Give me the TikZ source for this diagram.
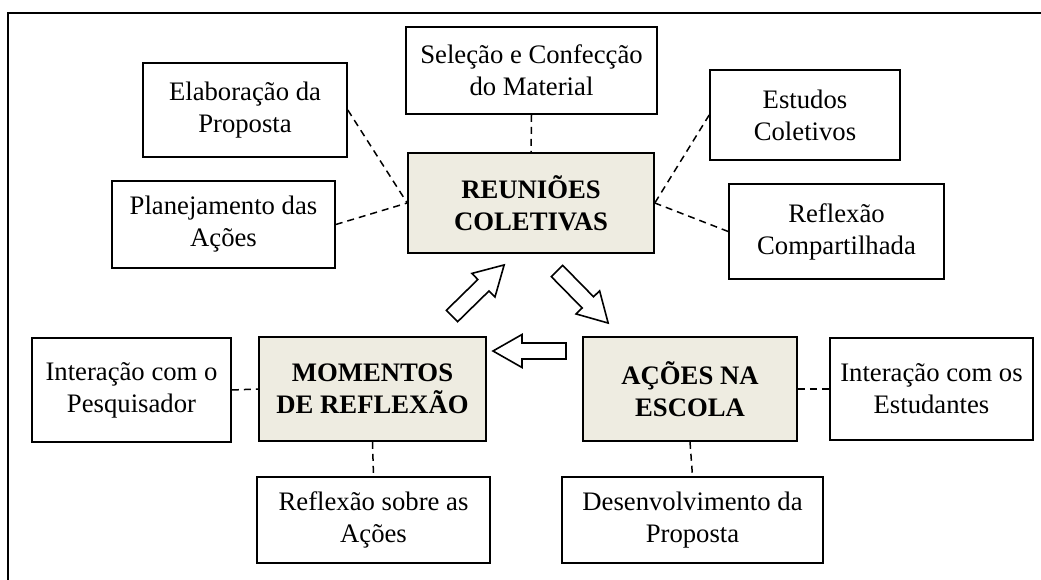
\documentclass[tikz,border=0pt]{standalone}
\usepackage{fontspec}
\setmainfont{Liberation Serif}

\definecolor{tanfill}{RGB}{238,236,225}
\tikzset{
  box/.style={draw, line width=1.6pt, align=center, inner sep=0pt,
    font=\fontsize{26.7}{32}\selectfont},
  mainbox/.style={box, fill=tanfill, font=\fontsize{26.7}{32}\selectfont\bfseries},
  link/.style={dash pattern=on 7pt off 5pt, line width=1.5pt},
  blockarrow/.style={draw, line width=1.6pt, fill=white, line join=miter},
}

\begin{document}
\begin{tikzpicture}[x=1pt, y=-1pt]
  \useasboundingbox (0,0) rectangle (1041,580);
  % outer frame (open to the right and below)
  \draw[line width=2.4pt] (8,580) -- (8,13) -- (1041,13);

  % the three main stages
  \node[mainbox, minimum width=246pt, minimum height=100pt] (reun) at (531,203) {REUNIÕES\\COLETIVAS};
  \node[mainbox, minimum width=227pt, minimum height=104pt] (mom) at (372.5,389) {MOMENTOS\\DE REFLEXÃO};
  \node[mainbox, minimum width=214pt, minimum height=104pt] (acoes) at (690,389) {AÇÕES NA\\ESCOLA};

  % boxes round the meetings
  \node[box, minimum width=251pt, minimum height=87pt] (sel) at (531.5,70.5) {Seleção e Confecção\\do Material};
  \node[box, minimum width=204pt, minimum height=94pt] (elab) at (245,110) {Elaboração da\\Proposta};
  \node[box, minimum width=190pt, minimum height=90pt] (est) at (805,115) {Estudos\\Coletivos};
  \node[box, minimum width=223pt, minimum height=87pt] (plan) at (223.5,224.5) {Planejamento das\\Ações};
  \node[box, minimum width=215pt, minimum height=95pt] (refc) at (836.5,231.5) {Reflexão\\Compartilhada};

  % boxes below
  \node[box, minimum width=199pt, minimum height=104pt] (intp) at (131.5,390) {Interação com o\\Pesquisador};
  \node[box, minimum width=203pt, minimum height=102pt] (inte) at (931.5,389) {Interação com os\\Estudantes};
  \node[box, minimum width=233pt, minimum height=86pt] (refs) at (373.5,520) {Reflexão sobre as\\Ações};
  \node[box, minimum width=261pt, minimum height=86pt] (desv) at (692.5,520) {Desenvolvimento da\\Proposta};

  % dashed links
  \foreach \from/\to in {sel.south/reun.north, elab.east/reun.west, plan.east/reun.west,
      est.west/reun.east, refc.west/reun.east, intp.east/mom.west, mom.south/refs.north,
      acoes.east/inte.west, acoes.south/desv.north}
    \draw[link] (\from) -- (\to);

  % cycle arrows: tail point and direction
  \foreach \tx/\ty/\ang in {452/316/44.4, 557/271/-45.5, 566/351/180}
    \draw[blockarrow, shift={(\tx,\ty)}, rotate=\ang]
      (0,-8) -- (44,-8) -- (44,-16.5) -- (73,0) -- (44,16.5) -- (44,8) -- (0,8) -- cycle;
\end{tikzpicture}
\end{document}
